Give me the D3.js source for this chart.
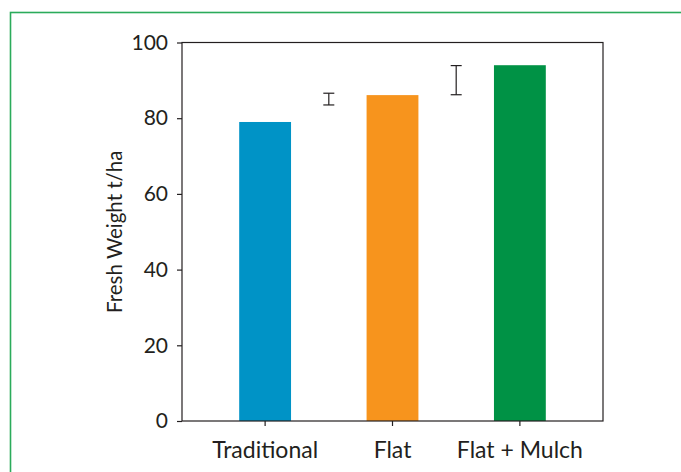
<!DOCTYPE html>
<html>
<head>
<meta charset="utf-8">
<script src="https://cdn.jsdelivr.net/npm/d3@7"></script>
<style>
  html, body { margin: 0; padding: 0; background: #fff; }
  svg { display: block; }
  text { font-family: Lato, "Open Sans", sans-serif; fill: #231f20; }
</style>
</head>
<body>
<script>
// Yield by planting method
const categories = ["Traditional", "Flat", "Flat + Mulch"];
const freshWeight = [79, 86.1, 94];
const barColors = ["#0093c6", "#f7941d", "#009245"];
// Error bars drawn between adjacent treatments (low, high)
const errLow = [83.5, 86.2];
const errHigh = [86.6, 93.9];
const yTicks = [0, 20, 40, 60, 80, 100];
const yLabel = "Fresh Weight t/ha";

const W = 681, H = 472;
const margin = { left: 182, right: 78, top: 42.5, bottom: 51 };
const x0 = margin.left, x1 = W - margin.right;
const y0 = H - margin.bottom, y1 = margin.top;

const svg = d3.select("body").append("svg")
  .attr("width", W).attr("height", H);

// outer panel frame
svg.append("rect")
  .attr("x", 10.5).attr("y", 12.5)
  .attr("width", W + 10).attr("height", H + 10)
  .attr("fill", "none").attr("stroke", "#2bab5b").attr("stroke-width", 1.6);

const x = d3.scaleBand()
  .domain(categories)
  .range([x0, x1])
  .paddingInner(0.593)
  .paddingOuter(0.449);

const y = d3.scaleLinear().domain([0, 100]).range([y0, y1]);

// bars
svg.append("g").selectAll("rect")
  .data(categories)
  .join("rect")
  .attr("x", d => x(d))
  .attr("width", x.bandwidth())
  .attr("y", (d, i) => y(freshWeight[i]))
  .attr("height", (d, i) => y(0) - y(freshWeight[i]))
  .attr("fill", (d, i) => barColors[i]);

// plot frame
svg.append("rect")
  .attr("x", x0).attr("y", y1)
  .attr("width", x1 - x0).attr("height", y0 - y1)
  .attr("fill", "none").attr("stroke", "#231f20").attr("stroke-width", 1.2);

// error bars
const cap = 5.5;
const eg = svg.append("g").attr("stroke", "#231f20").attr("stroke-width", 1.2);
errLow.forEach((lo, i) => {
  const cx = (x(categories[i]) + x(categories[i + 1])) / 2 + x.bandwidth() / 2;
  const hi = errHigh[i];
  eg.append("line").attr("x1", cx).attr("x2", cx).attr("y1", y(lo)).attr("y2", y(hi));
  eg.append("line").attr("x1", cx - cap).attr("x2", cx + cap).attr("y1", y(lo)).attr("y2", y(lo));
  eg.append("line").attr("x1", cx - cap).attr("x2", cx + cap).attr("y1", y(hi)).attr("y2", y(hi));
});

// axes
const yAxis = svg.append("g")
  .attr("transform", `translate(${x0},0)`)
  .call(d3.axisLeft(y).tickValues(yTicks).tickSize(5).tickPadding(9).tickFormat(d3.format("d")));
const xAxis = svg.append("g")
  .attr("transform", `translate(0,${y0})`)
  .call(d3.axisBottom(x).tickSize(5).tickPadding(16));
[yAxis, xAxis].forEach(g => {
  g.select(".domain").remove();
  g.selectAll("line").attr("stroke", "#231f20").attr("stroke-width", 1.2);
  g.selectAll("text").attr("fill", "#231f20")
    .style("font-family", "Lato, 'Open Sans', sans-serif");
});
yAxis.selectAll("text").attr("font-size", 21);
xAxis.selectAll("text").attr("font-size", 23);

// y axis title
svg.append("text")
  .attr("transform", `translate(117,${(y0 + y1) / 2}) rotate(-90)`)
  .attr("text-anchor", "middle")
  .attr("dominant-baseline", "middle")
  .attr("font-size", 20.5)
  .text(yLabel);
</script>
</body>
</html>
